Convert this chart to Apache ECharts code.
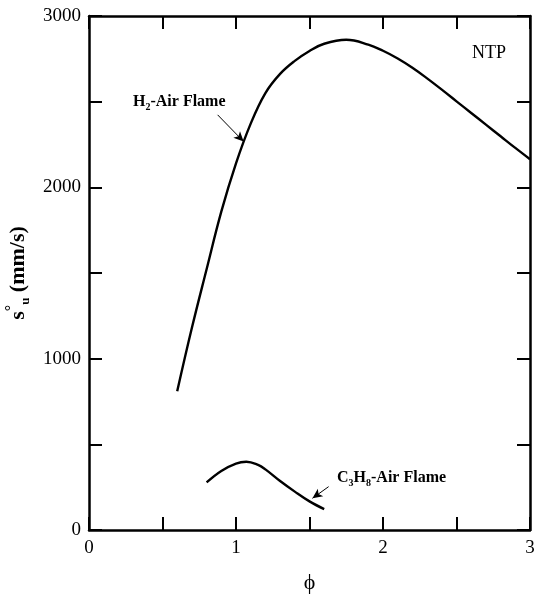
<!DOCTYPE html>
<html>
<head>
<meta charset="utf-8">
<script src="https://cdn.jsdelivr.net/npm/echarts@6/dist/echarts.min.js"></script>
<style>html,body{margin:0;padding:0;background:#fff;}#c{width:543px;height:596px;}</style>
</head>
<body>
<div id="c"></div>
<script>
// ---- data ----
const h2Phi = [0.6,0.7,0.8,0.9,1.0,1.1,1.2,1.3,1.4,1.5,1.6,1.75,1.9,2.0,2.1,2.2,2.3,2.4,2.5,2.6,2.7,2.8,2.9,3.0];
const h2Su  = [810,1180,1522,1858,2140,2372,2550,2662,2738,2796,2838,2861,2833,2797,2752,2698,2636,2570,2502,2434,2366,2298,2230,2164];
const c3Phi = [0.8,0.9,1.0,1.07,1.15,1.2,1.3,1.4,1.5,1.6];
const c3Su  = [278,345,388,398,380,354,286,224,167,122];
const xTicks = [0,1,2,3];
const yTicks = [0,1000,2000,3000];
const h2Arrow = [[0.875,2423],[1.052,2267]];
const c3Arrow = [[1.63,253],[1.52,185]];

const serif = '"Liberation Serif","Times New Roman",serif';
const zip = (a,b)=>a.map((v,i)=>[v,b[i]]);

const chart = echarts.init(document.getElementById('c'));
const axisLine = {show:true, onZero:false, lineStyle:{color:'#000', width:2.5}};
const tick = {show:true, inside:true, length:13, lineStyle:{color:'#000', width:2}};
chart.setOption({
  animation:false,
  backgroundColor:'#fff',
  grid:{left:89, right:13, top:16, bottom:66, outerBoundsMode:'none', containLabel:false},
  xAxis:[{
    type:'value', min:0, max:3, interval:0.5,
    axisLine, axisTick:tick, splitLine:{show:false},
    axisLabel:{color:'#000', fontFamily:serif, fontSize:19, margin:9,
      formatter:v=>xTicks.includes(v)?String(v):''},
    name:'\u03d5', nameLocation:'middle', nameGap:42,
    nameTextStyle:{color:'#000', fontFamily:serif, fontSize:22}
  },{
    type:'value', position:'top', min:0, max:3, interval:0.5,
    axisLine, axisTick:tick, axisLabel:{show:false}, splitLine:{show:false}
  }],
  yAxis:[{
    type:'value', min:0, max:3000, interval:500,
    axisLine, axisTick:tick, splitLine:{show:false},
    axisLabel:{color:'#000', fontFamily:serif, fontSize:19, margin:8,
      formatter:v=>yTicks.includes(v)?String(v):''},
    name:'{a|s}{sup|\u00b0}{sub|u}{a| (mm/s)}', nameLocation:'middle', nameGap:57, nameRotate:90,
    nameTextStyle:{color:'#000', fontFamily:serif, fontSize:22, fontWeight:'bold',
      rich:{
        a:{fontFamily:serif, fontSize:22, fontWeight:'bold', color:'#000', lineHeight:28},
        sup:{fontFamily:serif, fontSize:16, fontWeight:'bold', color:'#000', verticalAlign:'top', lineHeight:28, padding:[0,0,4,0]},
        sub:{fontFamily:serif, fontSize:13, fontWeight:'bold', color:'#000', verticalAlign:'bottom', lineHeight:28, padding:[9,0,0,0]}
      }}
  },{
    type:'value', position:'right', min:0, max:3000, interval:500,
    axisLine, axisTick:tick, axisLabel:{show:false}, splitLine:{show:false}
  }],
  series:[{
    name:'H2-Air', type:'line', data:zip(h2Phi,h2Su), smooth:0.4, showSymbol:false,
    lineStyle:{color:'#000', width:2.4},
    markLine:{silent:true, symbol:['none','arrow'], symbolSize:[7,10], label:{show:false},
      lineStyle:{color:'#000', width:1, type:'solid'},
      data:[[{coord:h2Arrow[0]},{coord:h2Arrow[1]}]]}
  },{
    name:'C3H8-Air', type:'line', data:zip(c3Phi,c3Su), smooth:0.4, showSymbol:false,
    lineStyle:{color:'#000', width:2.4},
    markLine:{silent:true, symbol:['none','arrow'], symbolSize:[7,10], label:{show:false},
      lineStyle:{color:'#000', width:1, type:'solid'},
      data:[[{coord:c3Arrow[0]},{coord:c3Arrow[1]}]]}
  }],
  graphic:[
    {type:'text', left:133, top:94, style:{
      text:'{a|H}{s|2}{a|-Air Flame}',
      rich:{a:{fontFamily:serif, fontSize:16, fontWeight:'bold', fill:'#000', lineHeight:20},
            s:{fontFamily:serif, fontSize:10, fontWeight:'bold', fill:'#000', verticalAlign:'bottom', lineHeight:20, padding:[7,0,0,0]}}}},
    {type:'text', left:337, top:470, style:{
      text:'{a|C}{s|3}{a|H}{s|8}{a|-Air Flame}',
      rich:{a:{fontFamily:serif, fontSize:16, fontWeight:'bold', fill:'#000', lineHeight:20},
            s:{fontFamily:serif, fontSize:10, fontWeight:'bold', fill:'#000', verticalAlign:'bottom', lineHeight:20, padding:[7,0,0,0]}}}},
    {type:'text', left:472, top:44, style:{text:'NTP', font:'18px '+serif, fill:'#000'}}
  ]
});
</script>
</body>
</html>
